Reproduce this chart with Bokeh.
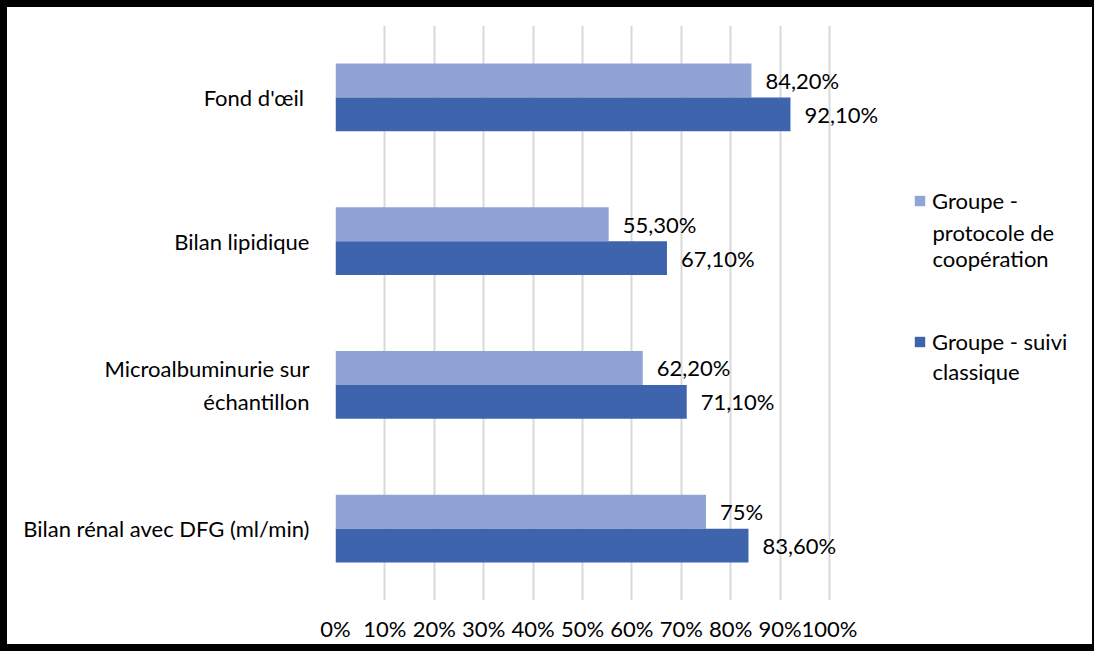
from bokeh.plotting import figure
from bokeh.models import (ColumnDataSource, FactorRange, NumeralTickFormatter,
                          FixedTicker, Legend, LegendItem, Label)
from bokeh.transform import dodge
from bokeh.core.properties import value
from bokeh.embed import file_html
from bokeh.resources import INLINE

# ---- data (top to bottom as in the reference) ----
categories = ["Fond d'œil ", "Bilan lipidique", "Microalbuminurie sur\néchantillon",
              "Bilan rénal avec DFG (ml/min)"]
protocole = [0.842, 0.553, 0.622, 0.75]
classique = [0.921, 0.671, 0.711, 0.836]
series_names = ["Groupe - protocole de coopération", "Groupe - suivi classique"]
# how the legend labels wrap, line by line
series_lines = [["Groupe -", "protocole de", "coopération"],
                ["Groupe - suivi", "classique"]]
x_ticks = [i / 10 for i in range(11)]


def fmt(v):
    pct = round(v * 100, 2)
    if abs(pct - round(pct)) < 1e-9:
        return f"{int(round(pct))}%"
    return f"{pct:.2f}".replace(".", ",") + "%"


FONT = "Lato"
FS = "22px"
LIGHT = "#8FA4D5"
DARK = "#3D64AD"

src = ColumnDataSource(dict(
    cat=categories,
    prot=protocole,
    clas=classique,
    prot_lbl=[fmt(v) for v in protocole],
    clas_lbl=[fmt(v) for v in classique],
))

# 100% sits at 494 px from the frame's left edge; the frame continues to the
# right so that labels and the legend are not clipped
FRAME_W = 752
FRAME_H = 575
X_END = FRAME_W / 494

p = figure(frame_width=FRAME_W, frame_height=FRAME_H, output_backend="svg",
           toolbar_location=None,
           y_range=FactorRange(factors=list(reversed(categories)), range_padding=0),
           x_range=(0, X_END),
           min_border_left=328, min_border_right=5, min_border_top=18,
           min_border_bottom=41)
p.outline_line_color = None
p.background_fill_color = "white"
p.border_fill_color = "white"

bw = 0.236
r1 = p.hbar(y=dodge("cat", bw / 2, range=p.y_range), right="prot", left=0, height=bw,
            source=src, fill_color=LIGHT, line_color=None)
r2 = p.hbar(y=dodge("cat", -bw / 2, range=p.y_range), right="clas", left=0, height=bw,
            source=src, fill_color=DARK, line_color=None)

p.text(x="prot", y=dodge("cat", bw / 2, range=p.y_range), text="prot_lbl", source=src,
       x_offset=14, text_baseline="middle", text_align="left",
       text_font=value(FONT), text_font_size=FS, text_color="#000000")
p.text(x="clas", y=dodge("cat", -bw / 2, range=p.y_range), text="clas_lbl", source=src,
       x_offset=14, text_baseline="middle", text_align="left",
       text_font=value(FONT), text_font_size=FS, text_color="#000000")

# axes
p.xaxis.ticker = FixedTicker(ticks=x_ticks)
p.xaxis.formatter = NumeralTickFormatter(format="0%")
p.xaxis.axis_line_color = None
p.xaxis.major_tick_line_color = None
p.xaxis.minor_tick_line_color = None
p.xaxis.major_label_standoff = 8
p.xaxis.major_label_text_font = FONT
p.xaxis.major_label_text_font_size = FS
p.xaxis.major_label_text_color = "#000000"

p.yaxis.axis_line_color = None
p.yaxis.major_tick_line_color = None
p.yaxis.major_label_standoff = 20
p.yaxis.major_label_text_font = FONT
p.yaxis.major_label_text_font_size = FS
p.yaxis.major_label_text_color = "#000000"

p.ygrid.grid_line_color = None
p.xgrid.grid_line_color = "#D9D9D9"
p.xgrid.grid_line_width = 2

# legend: square + first line of each label; continuation lines as labels
LEG_X = 578           # px from the frame's left edge
legend = Legend(items=[LegendItem(label=series_lines[0][0], renderers=[r1]),
                       LegendItem(label=series_lines[1][0], renderers=[r2])],
                orientation="vertical", location=(LEG_X, 245))
legend.spacing = 114
legend.border_line_color = None
legend.background_fill_alpha = 0
legend.label_text_font = FONT
legend.label_text_font_size = FS
legend.label_text_color = "#000000"
legend.label_height = 20
legend.glyph_width = 13
legend.glyph_height = 13
legend.label_standoff = 6
legend.padding = 0
legend.margin = 0
legend.label_text_line_height = 1.3
p.add_layout(legend, "center")

# continuation-line centres, px below the frame top
CONT_Y = [[207, 233], [346]]
for k, lines in enumerate(series_lines):
    for j, txt in enumerate(lines[1:]):
        p.add_layout(Label(x=LEG_X + 13 + 6, y=FRAME_H - CONT_Y[k][j],
                           x_units="screen", y_units="screen", text=txt,
                           text_font=FONT, text_font_size=FS, text_color="#000000",
                           text_baseline="middle", text_align="left"))

p.styles = {"border-left": "7px solid black", "border-top": "7px solid black",
            "border-bottom": "7px solid black", "border-right": "2px solid black"}

open("out.html", "w").write(file_html(p, INLINE))
